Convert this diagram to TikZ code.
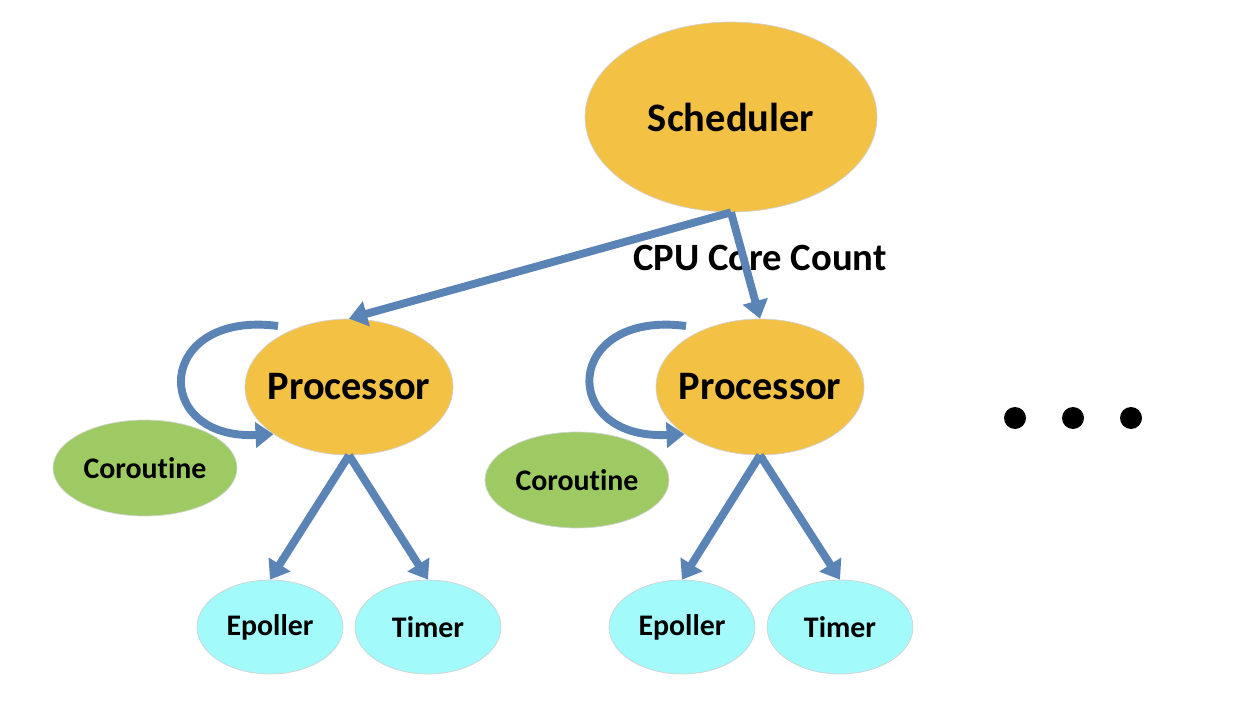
\documentclass[tikz,border=0pt]{standalone}
\usepackage{fontspec}
\setmainfont[Ligatures=NoCommon]{Carlito}
\usetikzlibrary{arrows.meta,positioning,calc,shapes.geometric}
\definecolor{schedyellow}{HTML}{F3C143}
\definecolor{corogreen}{HTML}{9DCA62}
\definecolor{pollcyan}{HTML}{A2FBFA}
\definecolor{linkblue}{HTML}{5A83B6}

\begin{document}
\begin{tikzpicture}[x=0.02cm,y=-0.02cm,>={Triangle[width=0.5cm,length=0.36cm]},
    blob/.style={ellipse,draw=black!18,line width=0.4pt,inner sep=0pt,font=\bfseries},
    procnode/.style={blob,fill=schedyellow,inner xsep=-0.5cm,minimum width=4.16cm,minimum height=2.72cm,font=\bfseries\fontsize{23}{26}\selectfont},
    coronode/.style={blob,fill=corogreen,minimum width=3.68cm,minimum height=1.92cm,font=\bfseries\fontsize{17}{20}\selectfont},
    leafnode/.style={blob,fill=pollcyan,minimum width=2.92cm,minimum height=1.88cm,font=\bfseries\fontsize{17}{20}\selectfont},
    link/.style={->,draw=linkblue,line width=4.5pt},
    loop/.style={->,draw=linkblue,line width=4.5pt}]
    \useasboundingbox (0,0) rectangle (1238,710);
    % Scheduler at the top
    \node[blob,fill=schedyellow,minimum width=5.84cm,minimum height=3.8cm,font=\bfseries\fontsize{23}{26}\selectfont] (sched) at (731,117) {Scheduler};
    \node[font=\bfseries\fontsize{22}{26}\selectfont] (cnt) at (760,258) {CPU Core Count};
    % First processor
    \node[procnode] (p1) at (349,387) {Processor};
    \node[coronode] (c1) at (145,468) {Coroutine};
    \node[leafnode] (e1) at (270,627) {Epoller};
    \node[leafnode] (t1) at (428,627) {Timer};
    % Second processor
    \node[procnode] (p2) at (760,387) {Processor};
    \node[coronode] (c2) at (577,480) {Coroutine};
    \node[leafnode] (e2) at (682,627) {Epoller};
    \node[leafnode] (t2) at (840,627) {Timer};
    % more processors
    \foreach \x in {1015,1073,1131}
      \node[circle,fill=black,inner sep=0pt,minimum size=0.44cm] (dot\x) at (\x,418) {};
    % links
    \draw[link] (sched.south) -- (p1.north);
    \draw[link] (sched.south) -- (p2.north);
    \draw[link] (p1.south) -- (e1.north);
    \draw[link] (p1.south) -- (t1.north);
    \draw[link] (p2.south) -- (e2.north);
    \draw[link] (p2.south) -- (t2.north);
    % self loops
    \coordinate (l1) at (278,326);
    \coordinate (l2) at (686,326);
    \draw[loop] (l1) .. controls (155,310) and (150,440) .. (p1.212);
    \draw[loop] (l2) .. controls (563,310) and (558,440) .. (p2.212);
\end{tikzpicture}
\end{document}
